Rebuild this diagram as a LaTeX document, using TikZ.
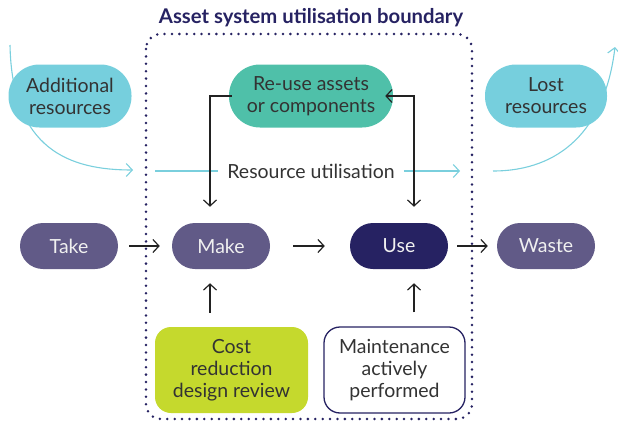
\documentclass[tikz,border=0pt]{standalone}
\usepackage{fontspec}
\setmainfont{Lato}
\usetikzlibrary{arrows.meta}
\definecolor{cyanpill}{HTML}{76CFDD}
\definecolor{tealpill}{HTML}{4FC0A9}
\definecolor{purplepill}{HTML}{615A87}
\definecolor{navy}{HTML}{262262}
\definecolor{limebox}{HTML}{C5D92D}
\definecolor{cyanline}{HTML}{7ACFDD}
\definecolor{darktext}{HTML}{333333}
\definecolor{arrowcol}{HTML}{222222}
\newcommand\pu{0.75pt}
\tikzset{
  lbl/.style={font=\fontsize{14.6}{16.5}\selectfont, align=center, inner sep=0pt},
  bigpill/.style={lbl, minimum height=63*\pu, rounded corners=31*\pu, text=darktext},
  smallpill/.style={lbl, minimum width=98*\pu, minimum height=46*\pu, rounded corners=23*\pu, text=white!94!black},
  boxnode/.style={lbl, minimum height=86*\pu, rounded corners=16*\pu, text=darktext},
  arr/.style={draw=arrowcol, line width=1.2*\pu, -{Straight Barb[length=6*\pu, width=13*\pu, line width=1.2*\pu]}},
  arrboth/.style={draw=arrowcol, line width=1.2*\pu, {Straight Barb[length=6*\pu, width=13*\pu, line width=1.2*\pu]}-{Straight Barb[length=6*\pu, width=13*\pu, line width=1.2*\pu]}},
  cyanarr/.style={draw=cyanline, line width=1.1*\pu, -{Straight Barb[length=6*\pu, width=13*\pu, line width=1.1*\pu]}},
  boundary/.style={draw=navy, line width=2.8*\pu, line cap=round, dash pattern=on 0pt off 7.4*\pu, rounded corners=15*\pu},
}
\begin{document}
\begin{tikzpicture}[x=0.75pt, y=-0.75pt]
\useasboundingbox (0,0) rectangle (618,421);
% title
\node[font=\fontsize{15.2}{18}\selectfont\bfseries, text=navy, inner sep=0pt] (title) at (311,18) {Asset system utilisation boundary};
% boundary
\draw[boundary] (146,34) rectangle (472,419);
% curves behind pills
\coordinate (addstart) at (10,45);
\coordinate (addend) at (133,170);
\draw[cyanarr] (addstart) .. controls (12,150) and (70,170) .. (addend);
\coordinate (loststart) at (493,171);
\coordinate (lostend) at (615,47);
\draw[cyanarr] (loststart) .. controls (560,171) and (605,130) .. (lostend);
% pills
\node[bigpill, fill=cyanpill, minimum width=123*\pu] (addres) at (70,96) {Additional\\resources};
\node[bigpill, fill=tealpill, minimum width=164*\pu] (reuse) at (311,96) {Re-use assets\\or components};
\node[bigpill, fill=cyanpill, minimum width=122*\pu] (lost) at (546,96) {Lost\\resources};
\node[smallpill, fill=purplepill] (take) at (69,246) {Take};
\node[smallpill, fill=purplepill] (make) at (221,246) {Make};
\node[smallpill, fill=navy] (use) at (399,246) {Use};
\node[smallpill, fill=purplepill] (waste) at (546,246) {Waste};
\node[boxnode, fill=limebox, minimum width=153*\pu] (cost) at (231.5,370) {Cost\\reduction\\design review};
\node[boxnode, draw=navy, line width=1.3*\pu, fill=white, minimum width=141*\pu] (maint) at (394.5,370) {Maintenance\\actively\\performed};
% resource utilisation
\node[lbl, text=darktext, inner sep=9*\pu] (ru) at (311,171) {Resource utilisation};
\coordinate (rustart) at (155,171);
\coordinate (ruend) at (460,171);
\draw[draw=cyanline, line width=1.1*\pu] (rustart) -- (ru.west);
\draw[cyanarr] (ru.east) -- (ruend);
% columns
\coordinate (colL) at (210,0);
\coordinate (colR) at (414,0);
% horizontal flow
\draw[arr] ([xshift=11*\pu]take.east) -- ([xshift=-12*\pu]make.west);
\draw[arr] ([xshift=23*\pu]make.east) -- ([xshift=-25*\pu]use.west);
\draw[arr] ([xshift=9*\pu]use.east) -- ([xshift=-9*\pu]waste.west);
% vertical feeds
\draw[arr] ([yshift=14*\pu]cost.north -| colL) -- ([yshift=-14*\pu]make.south -| colL);
\draw[arr] ([yshift=14*\pu]maint.north -| colR) -- ([yshift=-14*\pu]use.south -| colR);
% reuse loops
\draw[arr] ([xshift=3*\pu]reuse.west) -| ([yshift=16*\pu]make.north -| colL);
\draw[arrboth] ([xshift=-8*\pu]reuse.east) -| ([yshift=16*\pu]use.north -| colR);
\end{tikzpicture}
\end{document}
